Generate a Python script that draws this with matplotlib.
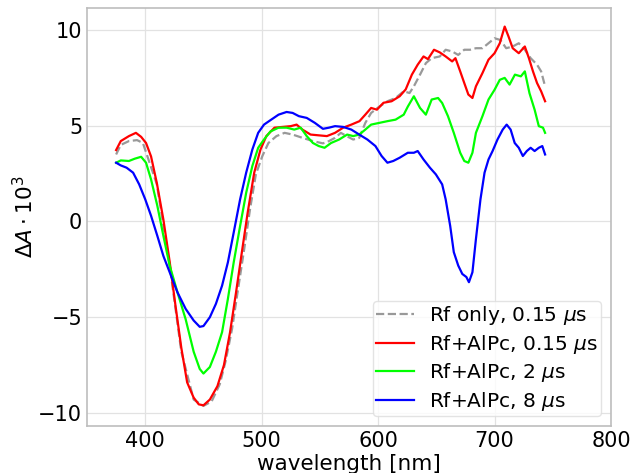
import matplotlib
matplotlib.use('Agg')
import matplotlib.pyplot as plt

# Rf only, 0.15 us (grey dashed)
wl_gray = [375, 379, 386, 393, 398, 410, 421, 431, 441.6, 450, 457, 464, 469, 474.6, 479.8, 485, 490, 495,
           500.6, 505.8, 512.7, 519.7, 526.6, 535, 544, 552.6, 557.8, 563, 568, 573, 578.6, 583.8, 589, 594,
           601, 608, 615, 622, 627, 630.7, 636, 641, 646, 653, 658, 663.6, 668.8, 674, 679, 684, 689.6,
           694.8, 700, 705, 710, 715.6, 720.8, 726, 731, 736.5, 740, 743.4]
val_gray = [3.5, 4.0, 4.2, 4.25, 4.1, 1.94, -2.3, -6.8, -9.3, -9.63, -9.4, -8.5, -7.3, -5.6, -3.5, -1.44, 0.64, 2.46,
            3.42, 4.1, 4.46, 4.63, 4.54, 4.37, 4.2, 4.08, 4.2, 4.37, 4.63, 4.46, 4.28, 4.37, 5.15, 5.67,
            6.0, 6.28, 6.45, 6.8, 6.71, 7.06, 7.67, 8.27, 8.53, 8.62, 8.97, 8.88, 8.7, 8.97, 8.97, 9.05, 9.05,
            9.31, 9.57, 9.48, 9.05, 9.14, 9.31, 8.97, 8.53, 8.19, 7.84, 7.06]

# Rf+AlPc, 0.15 us (red)
wl_red = [375, 379, 386, 392, 396.5, 400.7, 405, 410, 415.6, 421, 426, 431, 436, 441.6, 446, 450, 455.5, 462,
          467.6, 472.8, 478, 483, 488, 493.6, 499, 504, 511, 518, 525, 530, 535, 542, 549, 556, 563, 570,
          577, 584, 589, 594, 599, 604.6, 611.6, 618.5, 623.7, 629, 634, 639, 642.8, 648, 653, 658, 663.6,
          666.4, 670.5, 674, 677.5, 681, 684, 689.6, 694.8, 700, 704.5, 708.7, 712, 715.6, 720.8, 726,
          729.5, 733, 736.5, 740, 743.4]
val_red = [3.73, 4.2, 4.46, 4.63, 4.42, 4.1, 3.4, 2.0, 0.1, -2.1, -4.4, -6.6, -8.4, -9.2, -9.55, -9.6, -9.3, -8.6,
           -7.5, -5.8, -3.7, -1.6, 0.47, 2.55, 3.76, 4.46, 4.9, 4.94, 4.98, 5.06, 4.8, 4.54, 4.5, 4.46, 4.63, 4.9,
           5.06, 5.24, 5.58, 5.93, 5.84, 6.2, 6.28, 6.54, 6.9, 7.67, 8.19, 8.62, 8.48, 8.97, 8.83, 8.62, 8.36,
           8.53, 7.84, 7.23, 6.63, 6.45, 7.06, 7.75, 8.45, 8.79, 9.31, 10.18, 9.66, 9.05, 8.79, 9.14,
           8.53, 7.84, 7.23, 6.8, 6.28]

# Rf+AlPc, 2 us (green)
wl_green = [375, 379, 386, 391, 396.5, 400.7, 405, 410.4, 415.6, 421, 427.7, 434.7, 441.6, 446.8, 450, 455.5,
            460.7, 466, 471, 476, 481.5, 486.7, 492, 497, 502, 507.5, 514.5, 521.4, 528, 533.5, 538.7, 544,
            549, 554, 559.6, 566.5, 573.4, 578.6, 583.8, 589, 594, 601, 608, 615, 622, 625.5, 630.7, 636,
            641, 646, 651.5, 655, 660, 665, 670.5, 674, 677.5, 681, 684, 689.6, 694.8, 700, 704.5, 708.7,
            712.9, 717.5, 722.6, 726, 730, 734.4, 738, 741.6, 743.4]
val_green = [3.07, 3.19, 3.16, 3.28, 3.38, 3.07, 2.2, 0.82, -0.75, -2.3, -3.7, -5.1, -6.8, -7.7, -7.94, -7.6,
             -6.8, -5.78, -4.04, -2.13, -0.23, 1.5, 2.9, 3.85, 4.28, 4.7, 4.9, 4.9, 4.8, 4.9, 4.46, 4.1,
             3.94, 3.85, 4.1, 4.28, 4.54, 4.46, 4.54, 4.8, 5.06, 5.15, 5.24, 5.32, 5.58, 6.0, 6.54, 5.93,
             5.58, 6.37, 6.45, 6.19, 5.5, 4.63, 3.59, 3.16, 3.07, 3.59, 4.63, 5.5, 6.37, 6.88, 7.4, 7.5,
             7.15, 7.67, 7.58, 7.84, 6.7, 5.84, 4.98, 4.9, 4.63]

# Rf+AlPc, 8 us (blue)
wl_blue = [375, 379, 384, 389.6, 394.8, 400, 405, 410.4, 415.6, 421, 427.7, 434.7, 441.6, 446.8, 450, 455.5,
           460.7, 466, 471, 476, 481.5, 486.7, 492, 497, 502, 507.5, 514.5, 521.4, 526.6, 532, 538.7, 545.7,
           552.6, 557.8, 563, 570, 577, 583.8, 590.8, 597.7, 603, 608, 613, 618.5, 625.5, 630.7, 634, 639,
           644.5, 649.6, 655, 658, 661.9, 665, 668.8, 672.3, 675.8, 678, 681, 684, 687.9, 691.4, 694.8,
           698.3, 702.5, 707, 710.4, 713.8, 717.3, 720.8, 724.3, 727.7, 731, 734.4, 738, 741, 743.4]
val_blue = [3.07, 2.93, 2.81, 2.55, 1.94, 1.16, 0.3, -0.75, -1.8, -2.65, -3.7, -4.56, -5.17, -5.5, -5.46, -5.0,
            -4.3, -3.35, -2.13, -0.57, 1.16, 2.55, 3.76, 4.63, 5.06, 5.29, 5.58, 5.72, 5.67, 5.5, 5.41, 5.15,
            4.84, 4.9, 4.98, 4.94, 4.8, 4.54, 4.28, 3.94, 3.42, 3.07, 3.16, 3.33, 3.59, 3.59, 3.68, 3.24,
            2.81, 2.46, 1.94, 1.16, -0.23, -1.6, -2.3, -2.74, -2.9, -3.17, -2.65, -0.92, 1.16, 2.55, 3.24,
            3.68, 4.28, 4.8, 5.06, 4.8, 4.1, 3.85, 3.42, 3.68, 3.85, 3.68, 3.85, 3.94, 3.5]

labels = ['Rf only, 0.15 $\\mu$s', 'Rf+AlPc, 0.15 $\\mu$s', 'Rf+AlPc, 2 $\\mu$s', 'Rf+AlPc, 8 $\\mu$s']

fig = plt.figure(figsize=(6.33, 4.73), dpi=100)
ax = fig.add_axes([87 / 633, 47 / 473, 524 / 633, 418 / 473])

ax.plot(wl_gray, val_gray, '--', color='#999999', lw=1.6, label=labels[0])
ax.plot(wl_red, val_red, color='#ff0000', lw=1.6, label=labels[1])
ax.plot(wl_green, val_green, color='#00ff00', lw=1.6, label=labels[2])
ax.plot(wl_blue, val_blue, color='#0000ff', lw=1.6, label=labels[3])

ax.set_xlim(350, 800)
ax.set_ylim(-10.68, 11.15)
ax.set_xticks([400, 500, 600, 700, 800])
ax.set_yticks([-10, -5, 0, 5, 10])
ax.tick_params(length=0, labelsize=15, pad=3.5)
ax.grid(True, color='#e2e2e2', lw=0.9)
for s in ax.spines.values():
    s.set_color('#bdbdbd')
    s.set_linewidth(1.2)

ax.set_xlabel('wavelength [nm]', fontsize=15.5, labelpad=2)
ax.set_ylabel(r'$\Delta A \cdot 10^3$', fontsize=15.5, labelpad=1)

leg = ax.legend(loc='lower right', fontsize=14.5, framealpha=0.8, edgecolor='#dddddd',
                handlelength=1.9, handletextpad=0.75, borderpad=0.15, labelspacing=0.28,
                borderaxespad=0.5)

fig.savefig('out.png', dpi=100)
